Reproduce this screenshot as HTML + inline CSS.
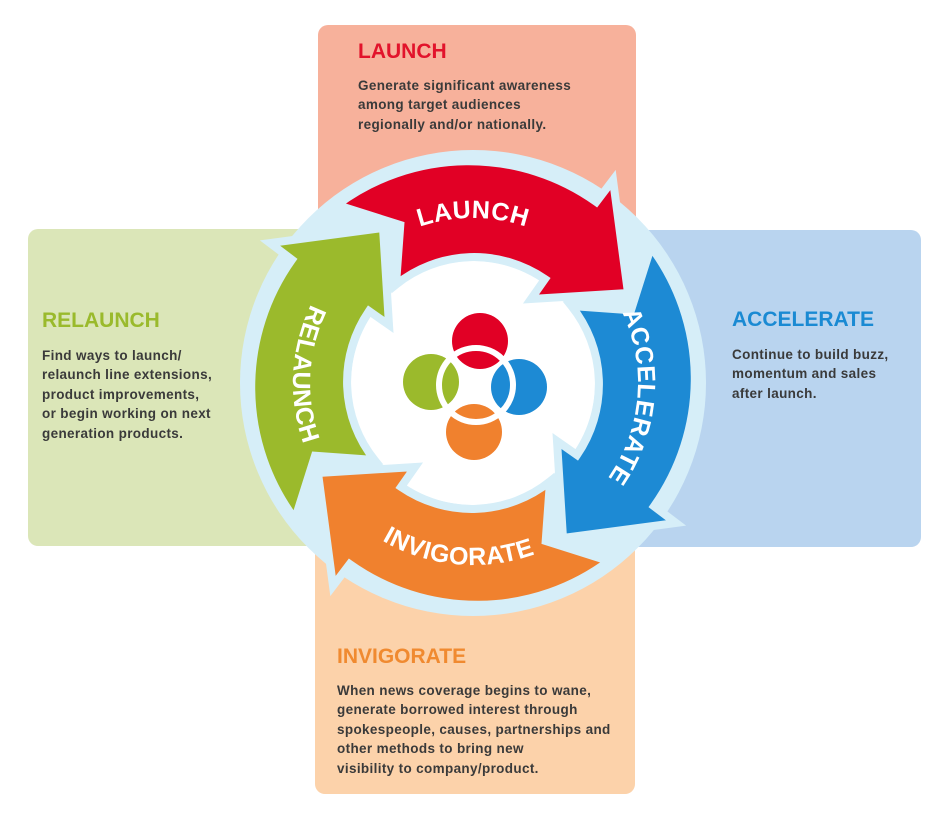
<!DOCTYPE html>
<html><head><meta charset="utf-8"><style>
html,body{margin:0;padding:0;background:#fff;}
svg{display:block;}
.t{font-family:"Liberation Sans",sans-serif;font-size:21px;font-weight:bold;}
.b{font-family:"Liberation Sans",sans-serif;font-size:13.5px;font-weight:bold;fill:#3a3a3a;letter-spacing:0.35px;}
.a{font-family:"Liberation Sans",sans-serif;font-size:25px;font-weight:bold;fill:#fff;letter-spacing:0.5px;}
</style></head><body>
<svg width="950" height="820" viewBox="0 0 950 820" xmlns="http://www.w3.org/2000/svg">
<rect x="318" y="25" width="318" height="300" rx="10" fill="#f7b19b"/>
<rect x="28" y="229" width="300" height="317" rx="10" fill="#dbe6b8"/>
<rect x="620" y="230" width="301" height="317" rx="10" fill="#b9d4ef"/>
<rect x="315" y="460" width="320" height="334" rx="10" fill="#fcd2aa"/>

<text class="t" x="358" y="58" fill="#e2132b">LAUNCH</text>
<text class="b" x="358" y="90">Generate significant awareness</text>
<text class="b" x="358" y="109">among target audiences</text>
<text class="b" x="358" y="129">regionally and/or nationally.</text>

<text class="t" x="42" y="327" fill="#9aba2c">RELAUNCH</text>
<text class="b" x="42" y="360">Find ways to launch/</text>
<text class="b" x="42" y="379">relaunch line extensions,</text>
<text class="b" x="42" y="399">product improvements,</text>
<text class="b" x="42" y="418">or begin working on next</text>
<text class="b" x="42" y="438">generation products.</text>

<text class="t" x="732" y="326" fill="#1a8ad3">ACCELERATE</text>
<text class="b" x="732" y="359">Continue to build buzz,</text>
<text class="b" x="732" y="378">momentum and sales</text>
<text class="b" x="732" y="398">after launch.</text>

<text class="t" x="337" y="663" fill="#f08a30">INVIGORATE</text>
<text class="b" x="337" y="695">When news coverage begins to wane,</text>
<text class="b" x="337" y="714">generate borrowed interest through</text>
<text class="b" x="337" y="734">spokespeople, causes, partnerships and</text>
<text class="b" x="337" y="753">other methods to bring new</text>
<text class="b" x="337" y="773">visibility to company/product.</text>

<circle cx="473" cy="383" r="233" fill="#d6eef8"/>
<circle cx="473" cy="383" r="122" fill="#fff"/>

<g transform="translate(473 383)" stroke="#d6eef8" stroke-width="8" stroke-linejoin="miter">
<path d="M-136,-178 A220,220 0 0 1 123.3,-181 L140,-203 L155,-90 L58,-84 L72,-104 A125,125 0 0 0 -77,-98.4 L-72.7,-158 Z" fill="#e10025"/>
<path d="M-136,-178 A220,220 0 0 1 123.3,-181 L140,-203 L155,-90 L58,-84 L72,-104 A125,125 0 0 0 -77,-98.4 L-72.7,-158 Z" fill="#1d8ad4" transform="rotate(90)"/>
<path d="M-136,-178 A220,220 0 0 1 123.3,-181 L140,-203 L155,-90 L58,-84 L72,-104 A125,125 0 0 0 -77,-98.4 L-72.7,-158 Z" fill="#f0812e" transform="rotate(180)"/>
<path d="M-136,-178 A220,220 0 0 1 123.3,-181 L140,-203 L155,-90 L58,-84 L72,-104 A125,125 0 0 0 -77,-98.4 L-72.7,-158 Z" fill="#9bba2c" transform="rotate(270)"/>
</g>

<defs>
<path id="pt" d="M330.1,300.5 A165,165 0 0 1 615.9,300.5"/>
<path id="pr" d="M567.6,247.8 A165,165 0 0 1 542.7,532.5"/>
<path id="pb" d="M308.1,459.9 A182,182 0 0 0 622.1,487.4"/>
<path id="pl" d="M391.3,222.6 A180,180 0 0 0 375,534"/>
</defs>
<text class="a"><textPath href="#pt" startOffset="50%" text-anchor="middle">LAUNCH</textPath></text>
<text class="a"><textPath href="#pr" startOffset="50%" text-anchor="middle">ACCELERATE</textPath></text>
<text class="a"><textPath href="#pb" startOffset="50%" text-anchor="middle">INVIGORATE</textPath></text>
<text class="a"><textPath href="#pl" startOffset="50%" text-anchor="middle">RELAUNCH</textPath></text>

<circle cx="480" cy="341" r="28" fill="#e10025"/>
<circle cx="519" cy="387" r="28" fill="#1d8ad4"/>
<circle cx="474" cy="432" r="28" fill="#f0812e"/>
<circle cx="431" cy="382" r="28" fill="#9bba2c"/>
<circle cx="476" cy="385" r="37" fill="none" stroke="#fff" stroke-width="6"/>
</svg>
</body></html>
